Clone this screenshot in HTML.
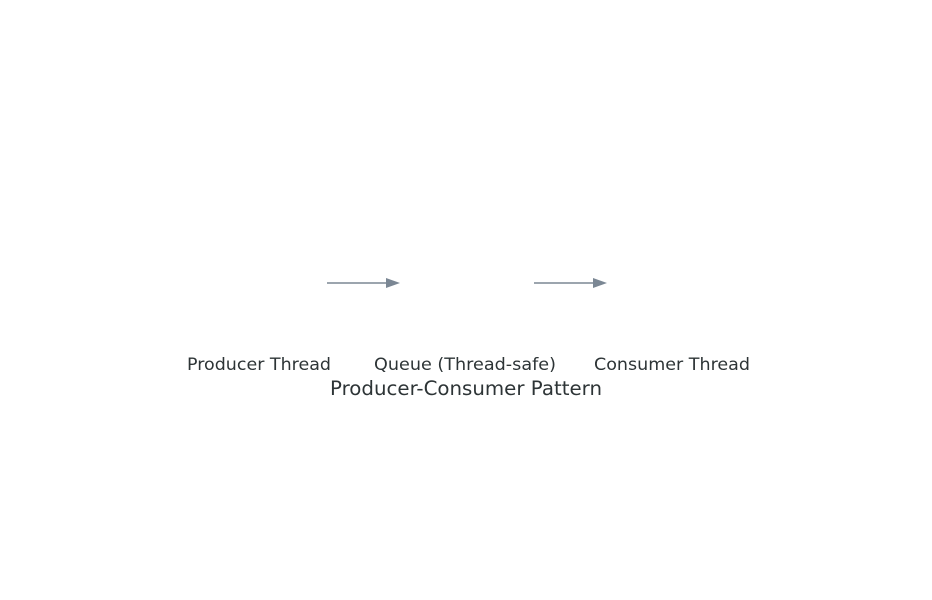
<!DOCTYPE html>
<html><head><meta charset="utf-8"><style>
html,body{margin:0;padding:0;background:#fff;width:932px;height:600px;overflow:hidden}
</style></head><body>
<svg width="932" height="600" xmlns="http://www.w3.org/2000/svg" font-family="DejaVu Sans, sans-serif">
<line x1="327" y1="283" x2="388" y2="283" stroke="#7b8794" stroke-width="1.5"/>
<polygon points="386,278 400,283 386,288" fill="#7b8794"/>
<line x1="534" y1="283" x2="595" y2="283" stroke="#7b8794" stroke-width="1.5"/>
<polygon points="593,278 607,283 593,288" fill="#7b8794"/>
<g fill="#2d3436" font-size="16.5">
<text x="259" y="370" text-anchor="middle" textLength="144" lengthAdjust="spacingAndGlyphs">Producer Thread</text>
<text x="465" y="370" text-anchor="middle" textLength="182" lengthAdjust="spacingAndGlyphs">Queue (Thread-safe)</text>
<text x="672" y="370" text-anchor="middle" textLength="156" lengthAdjust="spacingAndGlyphs">Consumer Thread</text>
</g>
<text x="466" y="395" text-anchor="middle" font-size="19.5" fill="#2d3436" textLength="272" lengthAdjust="spacingAndGlyphs">Producer-Consumer Pattern</text>
</svg>
</body></html>
